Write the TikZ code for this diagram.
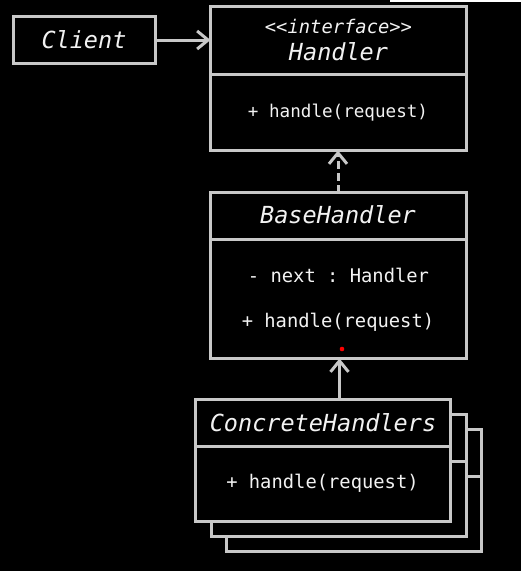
\documentclass[tikz,border=0pt]{standalone}
\usepackage{fontspec}
\setmonofont{DejaVu Sans Mono}
\usetikzlibrary{arrows.meta}
\definecolor{linegray}{RGB}{200,200,200}
\definecolor{txtwhite}{RGB}{242,242,242}
\tikzset{
  umlbox/.style={draw=linegray, line width=3pt, fill=black, rectangle, inner sep=0pt, outer sep=0pt},
  titletxt/.style={text=txtwhite, font=\ttfamily\itshape\fontsize{23.5}{28}\selectfont, inner sep=0pt},
  stereotxt/.style={text=txtwhite, font=\ttfamily\itshape\fontsize{18.8}{22}\selectfont, inner sep=0pt},
  methtxt/.style={text=txtwhite, font=\ttfamily\fontsize{18.8}{22}\selectfont, inner sep=0pt},
  divider/.style={draw=linegray, line width=3pt},
  conn/.style={draw=linegray, line width=3pt, -{Straight Barb[length=11pt,width=18pt,line width=3pt]}},
}
\begin{document}
\begin{tikzpicture}[x=1pt,y=-1pt]
\useasboundingbox (0,0) rectangle (521,571);
\fill[black] (0,0) rectangle (521,571);
\fill[white] (390,0) rectangle (521,1.5);

% Client
\node[umlbox, minimum width=142pt, minimum height=47pt] (client) at (84.5,40) {};
\node[titletxt] (clienttxt) at (84,40) {Client};

% Handler
\node[umlbox, minimum width=256pt, minimum height=144pt] (handler) at (338.5,78.5) {};
\draw[divider] (handler.west |- 0,74) -- (handler.east |- 0,74);
\node[stereotxt] (stereo) at (338.5,26) {<<interface>>};
\node[titletxt] (handlertxt) at (338.5,52) {Handler};
\node[methtxt, font=\ttfamily\fontsize{17.6}{21}\selectfont] (hmeth) at (338,113) {+ handle(request)};

% BaseHandler
\node[umlbox, minimum width=256pt, minimum height=166pt] (base) at (338.5,275.5) {};
\draw[divider] (base.west |- 0,239) -- (base.east |- 0,239);
\node[titletxt] (basetxt) at (338,215) {BaseHandler};
\node[methtxt] (bnext) at (338.5,275) {- next : Handler};
\node[methtxt] (bmeth) at (338,322) {+ handle(request)};

% ConcreteHandlers stack
\node[umlbox, minimum width=255pt, minimum height=122pt] (conc3) at (354,490.5) {};
\draw[divider] (conc3.west |- 0,476) -- (conc3.east |- 0,476);
\node[umlbox, minimum width=255pt, minimum height=122pt] (conc2) at (339,475.5) {};
\draw[divider] (conc2.west |- 0,461) -- (conc2.east |- 0,461);
\node[umlbox, minimum width=255pt, minimum height=122pt] (conc) at (323,460.5) {};
\draw[divider] (conc.west |- 0,446) -- (conc.east |- 0,446);
\node[titletxt] (conctxt) at (323,423) {ConcreteHandlers};
\node[methtxt] (cmeth) at (322.5,483) {+ handle(request)};

% connectors
\draw[conn] (client.east) -- (client.east -| handler.west);
\coordinate (dtop) at (338,0);
\draw[conn, dash pattern=on 8pt off 4pt] (base.north -| dtop) -- (handler.south -| dtop);
\coordinate (stop) at (339.5,0);
\draw[conn] (conc.north -| stop) -- (base.south -| stop);

% red pointer dot
\fill[red] (342,349) circle (2.3pt);
\end{tikzpicture}
\end{document}
